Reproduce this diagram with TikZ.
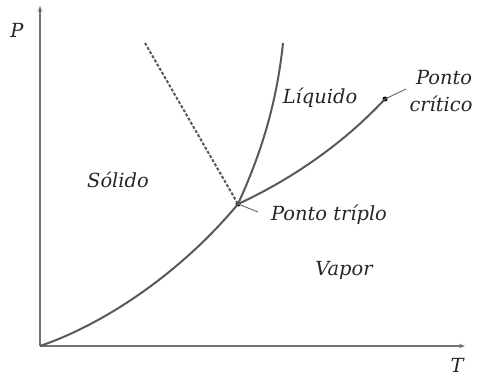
\documentclass[tikz,border=0pt]{standalone}
\usepackage{fontspec}
\setmainfont{DejaVu Serif}
\usetikzlibrary{arrows.meta}
\begin{document}
\begin{tikzpicture}[x=1bp,y=-1bp,
  axis/.style={draw=black!55,line width=1.8bp,-{Stealth[length=6bp,width=4.5bp]}},
  curve/.style={draw=black!65,line width=2bp},
  dashcurve/.style={draw=black!65,line width=2bp,dash pattern=on 3bp off 1.8bp},
  lead/.style={draw=black!60,line width=0.9bp},
  lbl/.style={font=\fontsize{19.5}{22}\selectfont\itshape,inner sep=0pt,text=black!85},
  dot/.style={circle,fill=black,inner sep=0pt,minimum size=5bp}]
\useasboundingbox (0,0) rectangle (477,376);
\coordinate (O) at (40,346);
\coordinate (Ptop) at (40,6);
\coordinate (Tend) at (465,346);
\node[dot] (tp) at (238,204) {};
\node[dot] (cp) at (385,99) {};
\coordinate (ftop) at (283,43);
\coordinate (dtop) at (145,43);
\coordinate (cplead) at (406,89);
\coordinate (tplead) at (258,212);
\draw[axis] (O) -- (Ptop);
\draw[axis] (O) -- (Tend);
\draw[curve] (O) .. controls (110,322) and (185,268) .. (tp.center);
\draw[curve] (tp.center) .. controls (258,160) and (276,110) .. (ftop);
\draw[curve] (tp.center) .. controls (290,180) and (342,145) .. (cp.center);
\draw[dashcurve] (dtop) -- (tp.center);
\draw[lead] (cp.center) -- (cplead);
\draw[lead] (tp.center) -- (tplead);
\node[lbl] (P) at (17,30) {P};
\node[lbl] (T) at (457,365) {T};
\node[lbl] (liq) at (320,98) {Líquido};
\node[lbl] (sol) at (118,180) {Sólido};
\node[lbl] (vap) at (344,270) {Vapor};
\node[lbl] (tpl) at (329,215) {Ponto tríplo};
\node[lbl] (pc1) at (444,78) {Ponto};
\node[lbl] (pc2) at (441,104) {crítico};
\end{tikzpicture}
\end{document}
